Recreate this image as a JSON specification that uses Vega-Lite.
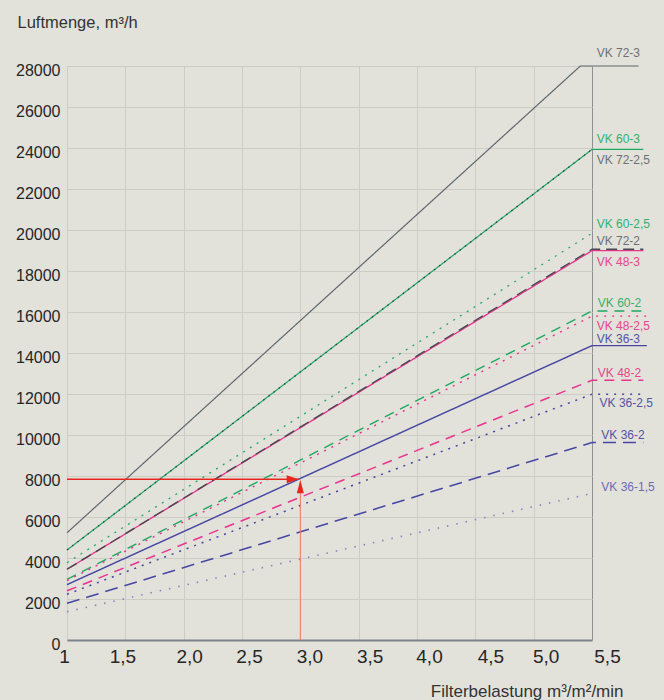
{
  "$schema": "https://vega.github.io/schema/vega-lite/v6.json",
  "width": 525,
  "height": 574,
  "autosize": {"type": "none"},
  "padding": {"left": 67, "top": 66, "right": 72, "bottom": 60},
  "background": "#e2e2db",
  "config": {
    "view": {"stroke": null},
    "font": "Liberation Sans, Arial, sans-serif"
  },
  "datasets": {
    "lines": [
      {"s": "VK 72-3", "x": 1, "y": 5230}, {"s": "VK 72-3", "x": 5.4, "y": 28000}, {"s": "VK 72-3", "x": 5.9, "y": 28000},
      {"s": "VK 60-3", "x": 1, "y": 4390}, {"s": "VK 60-3", "x": 5.5, "y": 23930}, {"s": "VK 60-3", "x": 5.94, "y": 23930},
      {"s": "VK 72-2,5", "x": 1, "y": 4390}, {"s": "VK 72-2,5", "x": 5.5, "y": 23930},
      {"s": "VK 60-2,5", "x": 1, "y": 3770}, {"s": "VK 60-2,5", "x": 5.5, "y": 19840},
      {"s": "VK 48-3", "x": 1, "y": 3450}, {"s": "VK 48-3", "x": 5.5, "y": 18990}, {"s": "VK 48-3", "x": 5.94, "y": 18990},
      {"s": "VK 72-2", "x": 1, "y": 3450}, {"s": "VK 72-2", "x": 5.5, "y": 19060}, {"s": "VK 72-2", "x": 5.94, "y": 19060},
      {"s": "VK 60-2", "x": 1, "y": 2960}, {"s": "VK 60-2", "x": 5.5, "y": 16050}, {"s": "VK 60-2", "x": 5.94, "y": 16050},
      {"s": "VK 48-2,5", "x": 1, "y": 2900}, {"s": "VK 48-2,5", "x": 5.5, "y": 15800}, {"s": "VK 48-2,5", "x": 5.97, "y": 15800},
      {"s": "VK 36-3", "x": 1, "y": 2700}, {"s": "VK 36-3", "x": 5.5, "y": 14360}, {"s": "VK 36-3", "x": 5.97, "y": 14360},
      {"s": "VK 48-2", "x": 1, "y": 2400}, {"s": "VK 48-2", "x": 5.5, "y": 12670}, {"s": "VK 48-2", "x": 5.94, "y": 12670},
      {"s": "VK 36-2,5", "x": 1, "y": 2230}, {"s": "VK 36-2,5", "x": 5.5, "y": 11990}, {"s": "VK 36-2,5", "x": 5.92, "y": 11990},
      {"s": "VK 36-2", "x": 1, "y": 1790}, {"s": "VK 36-2", "x": 5.5, "y": 9630}, {"s": "VK 36-2", "x": 5.94, "y": 9630},
      {"s": "VK 36-1,5", "x": 1, "y": 1380}, {"s": "VK 36-1,5", "x": 5.5, "y": 7150}
    ],
    "labels": [
      {"t": "VK 72-3", "f": "72", "x": 5.54, "y": 28620},
      {"t": "VK 60-3", "f": "60", "x": 5.54, "y": 24424},
      {"t": "VK 72-2,5", "f": "72", "x": 5.54, "y": 23415},
      {"t": "VK 60-2,5", "f": "60", "x": 5.54, "y": 20293},
      {"t": "VK 72-2", "f": "72", "x": 5.54, "y": 19478},
      {"t": "VK 48-3", "f": "48", "x": 5.54, "y": 18454},
      {"t": "VK 60-2", "f": "60", "x": 5.55, "y": 16454},
      {"t": "VK 48-2,5", "f": "48", "x": 5.54, "y": 15317},
      {"t": "VK 36-3", "f": "36", "x": 5.54, "y": 14668},
      {"t": "VK 48-2", "f": "48", "x": 5.55, "y": 13039},
      {"t": "VK 36-2,5", "f": "36", "x": 5.565, "y": 11546},
      {"t": "VK 36-2", "f": "36", "x": 5.58, "y": 10000},
      {"t": "VK 36-1,5", "f": "36l", "x": 5.58, "y": 7478}
    ],
    "hline": [{"x": 1, "x2": 2.986, "y": 7839}],
    "vline": [{"x": 3.0, "y": 0, "y2": 7700}],
    "rtip": [{"x": 2.986, "y": 7839}],
    "utip": [{"x": 3.0, "y": 7805}]
  },
  "encoding": {
    "x": {
      "field": "x", "type": "quantitative",
      "scale": {"domain": [1, 5.5], "nice": false, "zero": false},
      "axis": {
        "values": [1, 1.5, 2, 2.5, 3, 3.5, 4, 4.5, 5, 5.5],
        "labelExpr": "datum.value == 1 ? '1' : replace(format(datum.value, '.1f'), '.', ',')",
        "grid": true,
        "gridColor": {"condition": {"test": "datum.value == 5.5", "value": "#8e9194"}, "value": "#cdcdc6"},
        "gridWidth": 1,
        "ticks": false,
        "tickSize": 0,
        "domain": true,
        "domainColor": "#7c8389",
        "domainWidth": 2,
        "labelFontSize": 19,
        "labelColor": "#262626",
        "labelBaseline": "middle",
        "labelPadding": 16,
        "labelFlush": false,
        "labelOverlap": false,
        "labelOffset": {"condition": [
          {"test": "datum.value < 1.7", "value": -3},
          {"test": "datum.value < 2.2", "value": 5.5},
          {"test": "datum.value < 2.7", "value": 7},
          {"test": "datum.value < 3.2", "value": 9},
          {"test": "datum.value < 3.7", "value": 11},
          {"test": "datum.value < 4.2", "value": 12},
          {"test": "datum.value < 4.7", "value": 15},
          {"test": "datum.value < 5.2", "value": 12}
        ], "value": 15},
        "title": "Filterbelastung m³/m²/min",
        "titleFontSize": 17,
        "titleFontWeight": "normal",
        "titleColor": "#333333",
        "titleAlign": "right",
        "titleBaseline": "middle",
        "titleX": 556,
        "titleY": 51
      }
    },
    "y": {
      "field": "y", "type": "quantitative",
      "scale": {"domain": [0, 28000], "nice": false},
      "axis": {
        "values": [0, 2000, 4000, 6000, 8000, 10000, 12000, 14000, 16000, 18000, 20000, 22000, 24000, 26000, 28000],
        "format": "d",
        "grid": true,
        "gridColor": "#cdcdc6",
        "gridWidth": 1,
        "ticks": false,
        "tickSize": 0,
        "domain": false,
        "labelFontSize": 16,
        "labelColor": "#262626",
        "labelPadding": 7,
        "labelOffset": 4,
        "labelOverlap": false,
        "title": "Luftmenge, m³/h",
        "titleAngle": 0,
        "titleFontSize": 16.5,
        "titleFontWeight": "normal",
        "titleColor": "#333333",
        "titleAlign": "left",
        "titleBaseline": "middle",
        "titleX": -50,
        "titleY": -44
      }
    }
  },
  "layer": [
    {
      "data": {"name": "lines"},
      "mark": {"type": "line", "strokeCap": "butt", "clip": false},
      "encoding": {
        "detail": {"field": "s"},
        "color": {
          "field": "s", "type": "nominal", "legend": null,
          "scale": {
            "domain": ["VK 72-3", "VK 60-3", "VK 72-2,5", "VK 60-2,5", "VK 48-3", "VK 72-2", "VK 60-2", "VK 48-2,5", "VK 36-3", "VK 48-2", "VK 36-2,5", "VK 36-2", "VK 36-1,5"],
            "range": ["#5f666d", "#1fa862", "#3a4048", "#22aa66", "#e8338f", "#45494e", "#1fa862", "#e8338f", "#4747a3", "#e8338f", "#4747a3", "#4747a3", "#8484c0"]
          }
        },
        "strokeDash": {
          "field": "s", "type": "nominal", "legend": null,
          "scale": {
            "domain": ["VK 72-3", "VK 60-3", "VK 72-2,5", "VK 60-2,5", "VK 48-3", "VK 72-2", "VK 60-2", "VK 48-2,5", "VK 36-3", "VK 48-2", "VK 36-2,5", "VK 36-2", "VK 36-1,5"],
            "range": [[1, 0], [1, 0], [1.5, 5], [2, 6], [1, 0], [11, 6], [10, 7], [2, 6], [1, 0], [10, 7], [2, 6], [13, 7], [1.5, 8]]
          }
        },
        "strokeWidth": {
          "field": "s", "type": "nominal", "legend": null,
          "scale": {
            "domain": ["VK 72-3", "VK 60-3", "VK 72-2,5", "VK 60-2,5", "VK 48-3", "VK 72-2", "VK 60-2", "VK 48-2,5", "VK 36-3", "VK 48-2", "VK 36-2,5", "VK 36-2", "VK 36-1,5"],
            "range": [1.2, 1.6, 2, 1.8, 1.3, 2, 1.6, 1.8, 1.3, 1.5, 1.8, 1.6, 1.5]
          }
        }
      }
    },
    {
      "data": {"name": "labels"},
      "mark": {"type": "text", "align": "left", "baseline": "middle", "fontSize": 12, "clip": false},
      "encoding": {
        "text": {"field": "t"},
        "color": {
          "field": "f", "type": "nominal", "legend": null,
          "scale": {"domain": ["72", "60", "48", "36", "36l"], "range": ["#6d7175", "#33b06e", "#e8448f", "#5454a2", "#6c6cb4"]}
        }
      }
    },
    {
      "data": {"name": "vline"},
      "mark": {"type": "rule", "color": "#ee7a68", "strokeWidth": 1},
      "encoding": {"y2": {"field": "y2"}}
    },
    {
      "data": {"name": "hline"},
      "mark": {"type": "rule", "color": "#e8261e", "strokeWidth": 1.5},
      "encoding": {"x2": {"field": "x2"}}
    },
    {
      "data": {"name": "rtip"},
      "mark": {"type": "point", "shape": "M0,0L-2,-0.67L-2,0.67Z", "size": 144, "filled": true, "color": "#e8261e", "opacity": 1, "strokeWidth": 0},
      "encoding": {}
    },
    {
      "data": {"name": "utip"},
      "mark": {"type": "point", "shape": "M0,0L-0.53,2L0.53,2Z", "size": 177, "filled": true, "color": "#e8261e", "opacity": 1, "strokeWidth": 0},
      "encoding": {}
    }
  ],
  "resolve": {"scale": {"color": "independent"}}
}
